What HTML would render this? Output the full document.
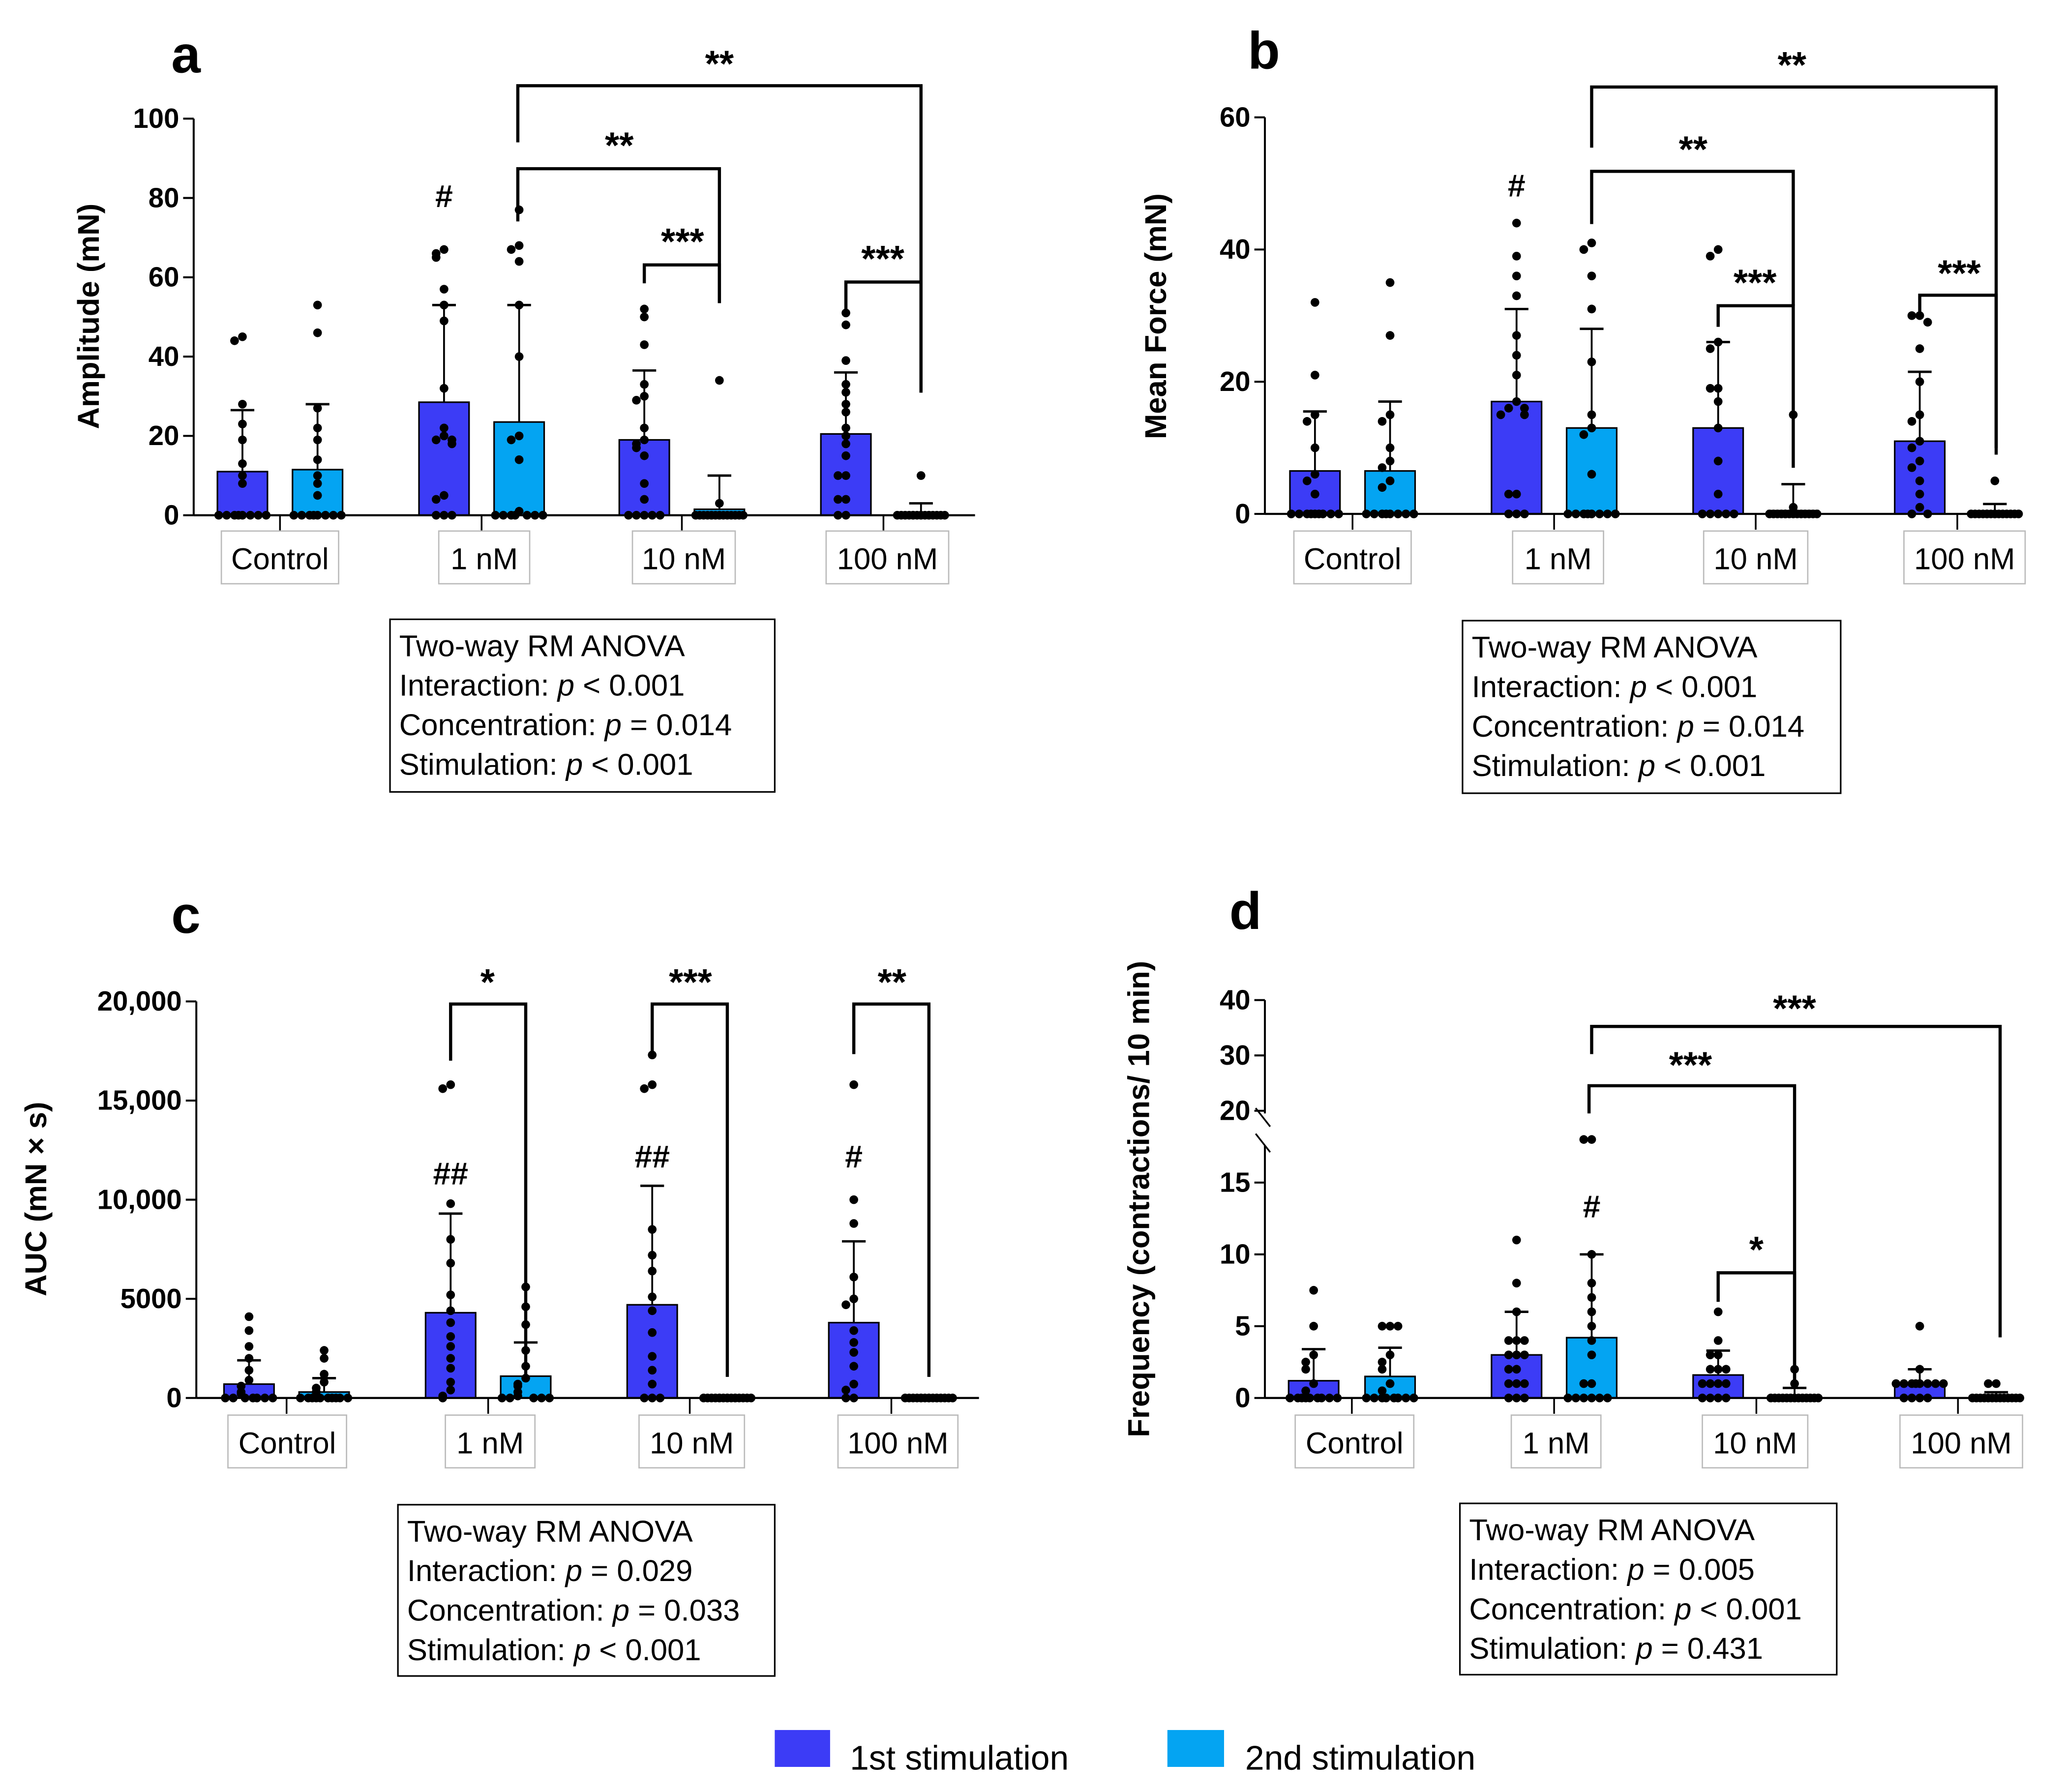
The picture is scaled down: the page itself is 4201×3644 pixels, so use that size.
<!DOCTYPE html>
<html><head><meta charset="utf-8"><style>
html,body{margin:0;padding:0;background:#fff;}
svg{display:block;font-family:"Liberation Sans",Arial,sans-serif;}
</style></head><body>
<svg id="fig" width="4201" height="3644" viewBox="0 0 1568 1360" xmlns="http://www.w3.org/2000/svg">
<rect x="0" y="0" width="1568" height="1360" fill="#fff"/>
<g id="root"></g>
</svg>
<script>
// ---------- DATA ----------
const groups = ["Control","1 nM","10 nM","100 nM"];
// panel a (Amplitude)
const aMeans = [11,11.5,28.5,23.5,19,1.5,20.5,0.5];
const aSD = [15.5,16.5,24.5,29.5,17.5,8.5,15.5,2.5];
const aTicks = [0,20,40,60,80,100];
const aDots = [
 [45,44,28,23,19,13,10,8,0,0,0,0,0,0,0,0],
 [53,46,27,22,19,14,10,8,5,0,0,0,0,0,0,0,0],
 [67,66,65,57,53,49,32,22,20,19,19,18,5,4,0,0,0],
 [77,68,67,64,53,40,20,19,14,1,0,0,0,0,0,0,0],
 [52,50,43,33,30,29,22,19,18,17,15,8,4,0,0,0,0,0],
 [34,3,0,0,0,0,0,0,0,0,0,0,0,0,0,0,0],
 [51,48,39,33,31,28,26,22,20,18,15,10,10,4,4,0,0],
 [10,0,0,0,0,0,0,0,0,0,0,0,0,0,0,0,0]];
// panel b (Mean force)
const bMeans = [6.5,6.5,17,13,13,0.5,11,0.3];
const bSD = [9,10.5,14,15,13,4,10.5,1.2];
const bTicks = [0,20,40,60];
const bDots = [
 [32,21,15,14,10,6,5,3,0,0,0,0,0,0,0,0,0],
 [35,27,15,14,10,8,7,5,4,0,0,0,0,0,0,0,0],
 [44,39,36,33,27,24,21,17,16,16,15,15,3,3,0,0,0],
 [41,40,36,31,23,15,13,12,6,0,0,0,0,0,0,0,0],
 [40,39,26,25,19,19,17,13,8,3,0,0,0,0,0],
 [15,1,0,0,0,0,0,0,0,0,0,0,0,0,0,0],
 [30,30,29,25,20,15,14,11,10,8,7,5,3,1,0,0],
 [5,0,0,0,0,0,0,0,0,0,0,0,0,0,0,0]];
// panel c (AUC)
const cMeans = [700,300,4300,1100,4700,0,3800,0];
const cSD = [1200,700,5000,1700,6000,0,4100,0];
const cTicks = [0,5000,10000,15000,20000];
const cTickLabels = ["0","5000","10,000","15,000","20,000"];
const cDots = [
 [4100,3400,2600,2000,1400,900,600,300,200,0,0,0,0,0,0,0],
 [2400,2000,1200,800,500,300,0,0,0,0,0,0,0,0,0,0],
 [15800,15600,9800,8000,6800,5200,4400,3800,3100,2600,2000,1500,800,400,100,0],
 [5600,4600,3700,2400,1600,1000,700,600,300,100,0,0,0,0,0],
 [17300,15800,15600,8500,7200,6400,5100,4400,3300,2100,1400,700,0,0,0],
 [0,0,0,0,0,0,0,0,0,0,0,0,0,0,0,0],
 [15800,10000,8800,6100,5000,4700,3400,2800,2300,1600,700,400,0,0],
 [0,0,0,0,0,0,0,0,0,0,0,0,0,0,0,0]];
// panel d (Frequency)
const dMeans = [1.2,1.5,3,4.2,1.6,0.1,1,0.1];
const dSD = [2.2,2,3,5.8,1.7,0.6,1,0.3];
const dTicks = [0,5,10,15,20,30,40];
const dDots = [
 [7.5,5,3,2.5,2,1,0.5,0,0,0,0,0,0,0,0,0],
 [5,5,5,3,2.5,2,1,0.5,0,0,0,0,0,0,0,0],
 [11,8,6,4,4,4,3,3,3,2,2,1,1,1,0,0,0],
 [18,18,10,8,7,6,5,4,3,1,1,0,0,0,0,0,0],
 [6,4,3,3,2,2,2,1,1,1,1,0,0,0,0],
 [2,1,0,0,0,0,0,0,0,0,0,0,0,0,0],
 [5,2,1,1,1,1,1,1,1,1,0,0,0,0],
 [1,1,0,0,0,0,0,0,0,0,0,0,0,0,0]];

const C1 = "#3c3cf6", C2 = "#04a4f2";
const NS = "http://www.w3.org/2000/svg";
const root = document.getElementById("root");
function mk(tag, attrs, parent, text){
  const e = document.createElementNS(NS, tag);
  for (const k in attrs) e.setAttribute(k, attrs[k]);
  if (text !== undefined) e.textContent = text;
  (parent||root).appendChild(e);
  return e;
}

function panel(cfg){
  const g = mk("g", {});
  
  
  const ax = cfg.axX, y0 = cfg.y0;
  const Y = cfg.scale;
  const L = mk("text",{x:cfg.letter[0],y:cfg.letter[1],"font-size":40,"font-weight":"bold"},g,cfg.letterText);
  
  
  const T = mk("text",{x:0,y:0,"font-size":23,"font-weight":"bold","text-anchor":"middle",transform:`translate(${cfg.ytitle[0]},${cfg.ytitle[1]}) rotate(-90)`},g,cfg.ytitleText);
  
  
  if (cfg.broken){
    mk("line",{x1:ax,y1:Y(40),x2:ax,y2:Y(20)+2,stroke:"#000","stroke-width":1.5},g);
    mk("line",{x1:ax,y1:Y(17.3)-3,x2:ax,y2:y0,stroke:"#000","stroke-width":1.5},g);
    mk("line",{x1:ax-7,y1:Y(20)-2,x2:ax+4,y2:Y(20)+12,stroke:"#000","stroke-width":1.3},g);
    mk("line",{x1:ax-7,y1:Y(17.3)-12,x2:ax+4,y2:Y(17.3)+2,stroke:"#000","stroke-width":1.3},g);
  } else {
    const yl = mk("line",{x1:ax,y1:Y(cfg.ticks[cfg.ticks.length-1]),x2:ax,y2:y0,stroke:"#000","stroke-width":1.5},g);
    
    
  }
  cfg.ticks.forEach((t,i)=>{
    const y = Y(t);
    mk("line",{x1:ax-8,y1:y,x2:ax,y2:y,stroke:"#000","stroke-width":1.5},g);
    const tl = mk("text",{x:ax-11,y:y+7,"font-size":21,"font-weight":"bold","text-anchor":"end"},g,cfg.tickLabels?cfg.tickLabels[i]:String(t));
    
    
  });
  const bw = 38;
  cfg.means.forEach((m,i)=>{
    const cx = cfg.barX[i];
    const col = i%2===0?C1:C2;
    const top = Y(m);
    const r = mk("rect",{x:cx-bw/2,y:top,width:bw,height:y0-top,fill:col,stroke:"#000","stroke-width":1.2},g);
    
    
    const ye = Y(m+cfg.sd[i]);
    mk("line",{x1:cx,y1:top,x2:cx,y2:ye,stroke:"#000","stroke-width":1.4},g);
    mk("line",{x1:cx-9,y1:ye,x2:cx+9,y2:ye,stroke:"#000","stroke-width":1.8},g);
    const placed = [];
    const offs = [0,-6,6,-12,12,-18,18,-3,3,-9,9,-15,15];
    cfg.dots[i].forEach(v=>{
      const y = Y(v);
      let n = placed.filter(p=>Math.abs(p-y)<6).length;
      placed.push(y);
      const dx = offs[n % offs.length];
      const d = mk("circle",{cx:cx+dx,cy:y,r:3.3,fill:"#000"},g);
      
      
    });
  });
  const xl = mk("line",{x1:ax,y1:y0,x2:cfg.axEnd,y2:y0,stroke:"#000","stroke-width":1.6},g);
  
  
  groups.forEach((gname,k)=>{
    const cx = (cfg.barX[2*k]+cfg.barX[2*k+1])/2;
    mk("line",{x1:cx,y1:y0,x2:cx,y2:y0+12,stroke:"#000","stroke-width":1.3},g);
    const b = cfg.boxes[k];
    const bx = mk("rect",{x:b[0],y:cfg.boxY,width:b[1]-b[0],height:40,fill:"#fff",stroke:"#bbb","stroke-width":1},g);
    
    
    const t = mk("text",{x:(b[0]+b[1])/2,y:cfg.boxY+29,"font-size":23,"text-anchor":"middle"},g,gname);
    
    
  });
  cfg.brackets.forEach(br=>{
    const [x1,x2,y,yl,yr,lab,lx,ly] = br;
    const p = mk("path",{d:`M${x1},${yl} L${x1},${y} L${x2},${y} L${x2},${yr}`,fill:"none",stroke:"#000","stroke-width":2.4},g);
    
    
    const s = mk("text",{x:lx,y:ly,"font-size":28,"font-weight":"bold","text-anchor":"middle"},g,lab);
    
    
  });
  cfg.hashes.forEach(h=>{
    const s = mk("text",{x:h[0],y:h[1],"font-size":24,"font-weight":"bold","text-anchor":"middle"},g,h[2]);
    
    
  });
  const A = cfg.anova;
  const ab = mk("rect",{x:A.x,y:A.y,width:A.w,height:A.h,fill:"#fff",stroke:"#000","stroke-width":1.2},g);
  
  
  A.lines.forEach((ln,i)=>{
    const t = mk("text",{x:A.x+7,y:A.y+28+i*30,"font-size":23},g);
    
    
    const parts = ln.split("|");
    mk("tspan",{},t,parts[0]);
    if (parts.length>1){ mk("tspan",{"font-style":"italic"},t,"p"); mk("tspan",{},t,parts[1]); }
  });
}

const lin = (y0,yTop,vTop)=> v => y0 - v*(y0-yTop)/vTop;

panel({name:"panel-a-amplitude",letterText:"a",letter:[130,55],ytitle:[75,240],ytitleText:"Amplitude (mN)",
  axX:147,y0:391,axEnd:740,scale:lin(391,90,100),ticks:aTicks,means:aMeans,sd:aSD,dots:aDots,
  barX:[184,241,337,394,489,546,642,699],boxY:403,boxes:[[168,257],[333,402],[480,558],[627,720]],
  brackets:[[393,699,65,108,298,"**",546,58],[393,546,128,168,230,"**",470,120],[489,546,201,215,230,"***",518,193],[642,699,214,240,298,"***",670,206]],
  hashes:[[337,157,"#"]],
  anova:{x:296,y:470,w:292,h:131,lines:["Two-way RM ANOVA","Interaction: | < 0.001","Concentration: | = 0.014","Stimulation: | < 0.001"]}});

panel({name:"panel-b-mean-force",letterText:"b",letter:[947,52],ytitle:[885,240],ytitleText:"Mean Force (mN)",
  axX:960,y0:390,axEnd:1535,scale:lin(390,89,60),ticks:bTicks,means:bMeans,sd:bSD,dots:bDots,
  barX:[998,1055,1151,1208,1304,1361,1457,1514],boxY:403,boxes:[[982,1071],[1148,1217],[1293,1372],[1445,1537]],
  brackets:[[1208,1515,66,112,340,"**",1360,59],[1208,1361,130,170,232,"**",1285,123],[1304,1361,232,248,355,"***",1332,224],[1457,1515,224,240,345,"***",1487,217]],
  hashes:[[1151,149,"#"]],
  anova:{x:1110,y:471,w:287,h:131,lines:["Two-way RM ANOVA","Interaction: | < 0.001","Concentration: | = 0.014","Stimulation: | < 0.001"]}});

panel({name:"panel-c-auc",letterText:"c",letter:[130,708],ytitle:[35,910],ytitleText:"AUC (mN × s)",
  axX:149,y0:1061,axEnd:743,scale:lin(1061,760,20000),ticks:cTicks,tickLabels:cTickLabels,means:cMeans,sd:cSD,dots:cDots,
  barX:[189,246,342,399,495,552,648,705],boxY:1074,boxes:[[173,263],[338,406],[485,565],[636,727]],
  brackets:[[342,399,762,805,1045,"*",370,755],[495,552,762,800,1045,"***",524,755],[648,705,762,800,1045,"**",677,755]],
  hashes:[[342,899,"##"],[495,886,"##"],[648,886,"#"]],
  anova:{x:302,y:1142,w:286,h:130,lines:["Two-way RM ANOVA","Interaction: | = 0.029","Concentration: | = 0.033","Stimulation: | < 0.001"]}});

const dScale = v => v < 19 ? 1061 - v*10.9 : 843 - (v-20)*4.2;
panel({name:"panel-d-frequency",letterText:"d",letter:[933,705],ytitle:[872,910],ytitleText:"Frequency (contractions/ 10 min)",
  axX:960,y0:1061,axEnd:1535,scale:dScale,broken:true,ticks:dTicks,means:dMeans,sd:dSD,dots:dDots,
  barX:[997,1055,1151,1208,1304,1362,1457,1515],boxY:1074,boxes:[[983,1073],[1147,1215],[1292,1372],[1442,1535]],
  brackets:[[1208,1518,779,800,1015,"***",1362,775],[1206,1362,824,845,1050,"***",1283,818],[1304,1362,966,988,1050,"*",1333,958]],
  hashes:[[1208,924,"#"]],
  anova:{x:1108,y:1141,w:286,h:130,lines:["Two-way RM ANOVA","Interaction: | = 0.005","Concentration: | < 0.001","Stimulation: | = 0.431"]}});

const lg = mk("g",{});


const l1 = mk("rect",{x:588,y:1313,width:42,height:28,fill:C1},lg);


const t1 = mk("text",{x:645,y:1343,"font-size":26},lg,"1st stimulation");


const l2 = mk("rect",{x:886,y:1313,width:43,height:28,fill:C2},lg);


const t2 = mk("text",{x:945,y:1343,"font-size":26},lg,"2nd stimulation");


</script>
</body></html>
